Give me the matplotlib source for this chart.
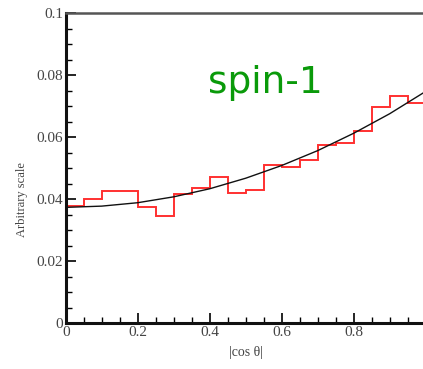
import numpy as np
import matplotlib
matplotlib.use("Agg")
import matplotlib.pyplot as plt
from matplotlib.ticker import MultipleLocator

# histogram of |cos theta|, 20 bins of width 0.05
bin_edges = [0.0, 0.05, 0.1, 0.15, 0.2, 0.25, 0.3, 0.35, 0.4, 0.45, 0.5,
             0.55, 0.6, 0.65, 0.7, 0.75, 0.8, 0.85, 0.9, 0.95, 1.0]
hist_vals = [0.0378, 0.0400, 0.0426, 0.0426, 0.0376, 0.0347, 0.0418, 0.0435,
             0.0471, 0.0419, 0.0430, 0.0512, 0.0505, 0.0527, 0.0575, 0.0580,
             0.0620, 0.0699, 0.0734, 0.0710]

# fitted curve
curve_x = [0.0, 0.1, 0.2, 0.3, 0.4, 0.5, 0.6, 0.7, 0.8, 0.9, 1.0]
curve_y = [0.0374, 0.0378, 0.0389, 0.0408, 0.0434, 0.0468, 0.0509, 0.0557,
           0.0613, 0.0676, 0.0748]

# the "1" label sits past the right edge of the picture, so it is not shown
xticks = [0, 0.2, 0.4, 0.6, 0.8]
xticklabels = ["0", "0.2", "0.4", "0.6", "0.8"]
yticks = [0, 0.02, 0.04, 0.06, 0.08, 0.1]
yticklabels = ["0", "0.02", "0.04", "0.06", "0.08", "0.1"]

fig = plt.figure(figsize=(4.23, 3.69), dpi=100)
ax = fig.add_axes([0.1553, 0.1238, 0.851, 0.8402])

ax.stairs(hist_vals, bin_edges, baseline=None, color="#ff3030", lw=1.4)
ax.plot(curve_x, curve_y, color="#111111", lw=1.0)

ax.set_xlim(0, 1)
ax.set_ylim(0, 0.1)

serif = ["Liberation Serif", "DejaVu Serif"]
ax.set_xticks(xticks)
ax.set_xticklabels(xticklabels, family=serif, fontsize=11, color="#444444")
ax.set_yticks(yticks)
ax.set_yticklabels(yticklabels, family=serif, fontsize=11, color="#444444")
ax.xaxis.set_minor_locator(MultipleLocator(0.05))
ax.yaxis.set_minor_locator(MultipleLocator(0.005))
ax.tick_params(which="major", direction="in", length=7, width=1.2,
               top=False, right=False, pad=2)
ax.tick_params(which="minor", direction="in", length=4, width=1.0,
               top=False, right=False)

for side in ["left", "bottom"]:
    ax.spines[side].set_linewidth(2.2)
    ax.spines[side].set_color("#111111")
ax.spines["top"].set_linewidth(1.8)
ax.spines["top"].set_color("#555555")
ax.spines["right"].set_visible(False)

ax.set_xlabel("|cos θ|", family=serif, fontsize=10, color="#444444", labelpad=5)
fig.text(22 / 423, 1 - 200 / 369, "Arbitrary scale", family=serif, fontsize=9,
         color="#444444", rotation=90, ha="center", va="center")

fig.text(208 / 423, 1 - 93 / 369, "spin-1", fontsize=27, color="#0a9a0a",
         family=["DejaVu Sans"], ha="left", va="baseline")

fig.savefig("out.png", dpi=100)
